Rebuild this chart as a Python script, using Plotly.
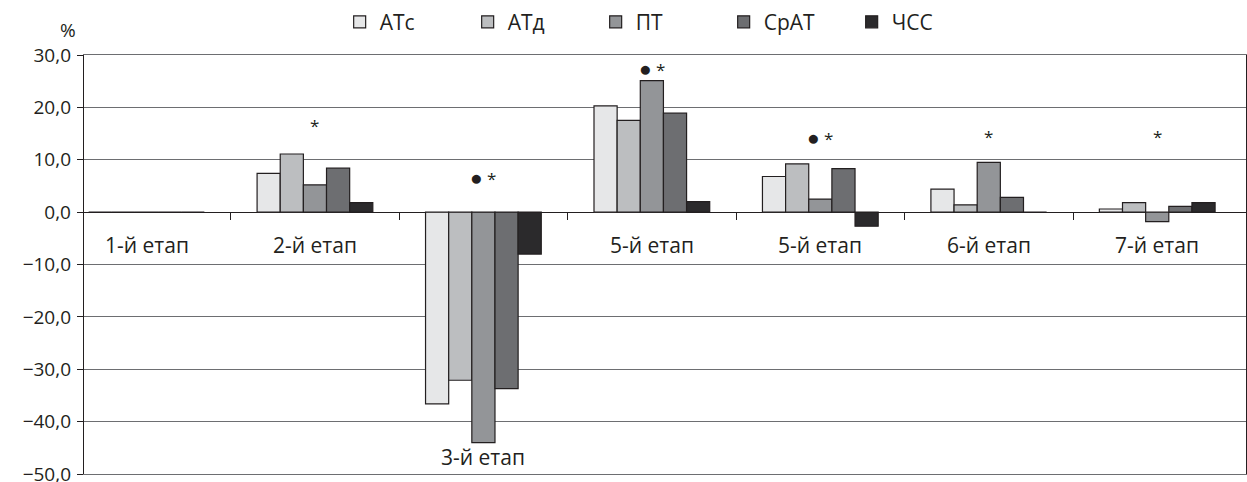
import plotly.graph_objects as go

stages = ["1-й етап", "2-й етап", "3-й етап", "5-й етап", "5-й етап", "6-й етап", "7-й етап"]
series_names = ["АТс", "АТд", "ПТ", "СрАТ", "ЧСС"]
colors = ["#e6e7e8", "#bcbec0", "#939598", "#6d6e71", "#2b2a2c"]

atc = [0, 7.4, -36.6, 20.3, 6.8, 4.4, 0.6]
atd = [0, 11.1, -32.1, 17.5, 9.2, 1.4, 1.8]
pt = [0, 5.2, -44.0, 25.1, 2.5, 9.5, -1.8]
srat = [0, 8.4, -33.7, 18.9, 8.3, 2.8, 1.1]
chss = [0, 1.8, -8.0, 2.0, -2.7, 0, 1.8]

DOT = "<span style='font-size:21px'>●</span> *"
marks = ["", "*", DOT, DOT, DOT, "*", "*"]
mark_y = [0, 16.6, 6.8, 27.6, 14.4, 14.4, 14.4]
label_y = [-6.3, -6.3, -46.8, -6.3, -6.3, -6.3, -6.3]

FONT = "Open Sans"
INK = "#231f20"
GRID = "#6d6e71"
x = list(range(len(stages)))

fig = go.Figure()
for name, vals, col in zip(series_names, [atc, atd, pt, srat, chss], colors):
    fig.add_trace(go.Bar(
        x=x, y=vals, name=name,
        marker=dict(color=col, line=dict(color=INK, width=1.2)),
    ))

# invisible trace for x-axis ticks at zero line
fig.add_trace(go.Scatter(x=[0], y=[0], xaxis="x2", mode="markers",
                         marker=dict(opacity=0), showlegend=False, hoverinfo="skip"))

for i, s in enumerate(stages):
    fig.add_annotation(x=i, y=label_y[i], text=s, showarrow=False,
                       font=dict(family=FONT, size=21, color=INK),
                       xanchor="center", yanchor="middle")
    if marks[i]:
        fig.add_annotation(x=i, y=mark_y[i], text=marks[i], showarrow=False,
                           font=dict(family=FONT, size=17, color=INK),
                           xanchor="center", yanchor="middle")

fig.add_annotation(x=-0.014, y=1.06, xref="paper", yref="paper", text="%",
                   showarrow=False, font=dict(family=FONT, size=19, color=INK),
                   xanchor="center", yanchor="middle")

xr = [-0.371, 6.527]
fig.update_layout(
    width=1247, height=482,
    margin=dict(l=84, r=1, t=55, b=8, autoexpand=False),
    paper_bgcolor="white", plot_bgcolor="white",
    separators=", ",
    barmode="group", bargap=0.313, bargroupgap=0,
    font=dict(family=FONT, size=19, color=INK),
    showlegend=True,
    legend=dict(orientation="h", xref="container", yref="container",
                x=0.529, xanchor="center", y=0.954, yanchor="middle",
                font=dict(family=FONT, size=21, color=INK),
                entrywidth=83, entrywidthmode="pixels",
                itemwidth=30, traceorder="normal"),
    xaxis=dict(range=xr, showticklabels=False, showgrid=False, zeroline=False,
               showline=True, mirror=True, linecolor=GRID, linewidth=1.2,
               ticks="", fixedrange=True),
    xaxis2=dict(range=xr, overlaying="x", anchor="free", position=0.625,
                tickvals=[0.5, 1.5, 2.5, 3.5, 4.5, 5.5], ticks="outside", ticklen=7,
                tickcolor=INK, tickwidth=1.2, showticklabels=False,
                showgrid=False, zeroline=False, showline=False),
    yaxis=dict(range=[-50, 30], tickvals=[-50, -40, -30, -20, -10, 0, 10, 20, 30],
               tickformat=".1f", ticks="outside", ticklen=6, tickcolor=INK,
               tickwidth=1.2, showgrid=True, gridcolor=GRID, gridwidth=1.2,
               zeroline=True, zerolinecolor=INK, zerolinewidth=1.4,
               showline=True, linecolor=INK, linewidth=1.4, mirror=True,
               ticklabeloverflow="allow",
               tickfont=dict(family=FONT, size=19, color=INK), ticklabelstandoff=2),
)

fig.write_html("out.html", config={"displayModeBar": False},
               post_script="document.body.style.margin='0';")
